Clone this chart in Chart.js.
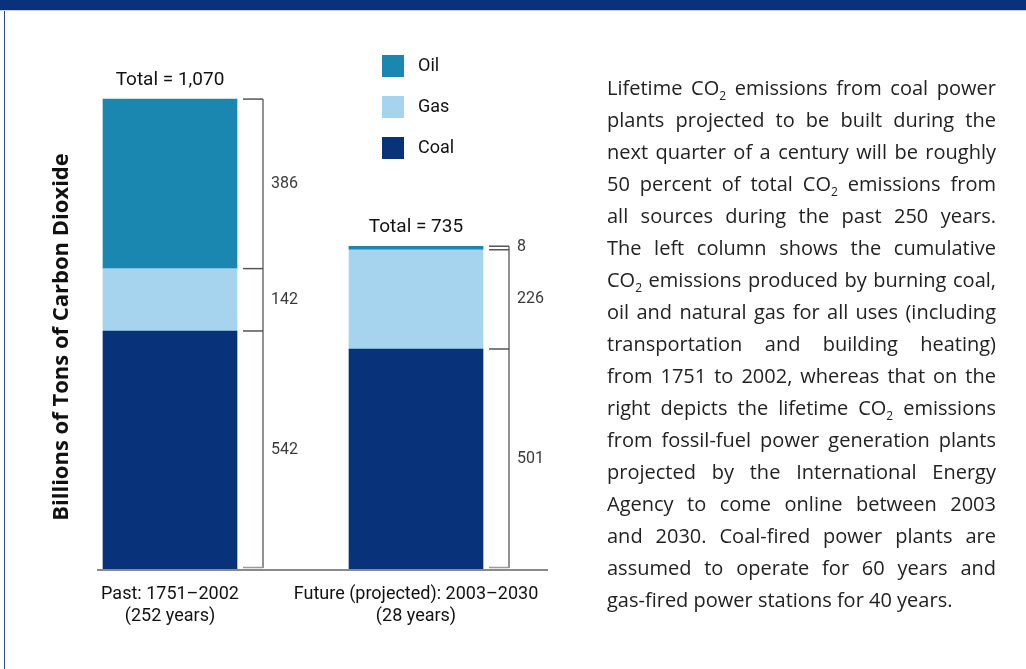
<!DOCTYPE html>
<html>
<head>
<meta charset="utf-8">
<script src="https://cdn.jsdelivr.net/npm/chart.js@4.4.1/dist/chart.umd.min.js"></script>
<style>
  html, body { margin: 0; padding: 0; background: #ffffff; }
  body { width: 1026px; height: 669px; position: relative; overflow: hidden; font-family: Roboto, "Open Sans", sans-serif; }
  #topbar { position: absolute; left: 0; top: 0; width: 1026px; height: 10px; background: #08337a; border-bottom: 1px solid #c9d1de; }
  #leftrule { position: absolute; left: 4px; top: 11px; width: 1px; height: 658px; background: #2d4a86; }
  #c { position: absolute; left: 0; top: 0; }
  #para { position: absolute; left: 607px; top: 72px; width: 389px; font-family: "Open Sans", Roboto, sans-serif; font-size: 20px; line-height: 32px; color: #222; }
  #para div { text-align: justify; text-align-last: justify; white-space: nowrap; }
  #para div.last { text-align-last: left; }
  #para sub { font-size: 12px; line-height: 0; vertical-align: -5px; }
</style>
</head>
<body>
<div id="topbar"></div>
<div id="leftrule"></div>
<canvas id="c" width="1026" height="669"></canvas>
<div id="para">
  <div>Lifetime CO<sub>2</sub> emissions from coal power</div>
  <div>plants projected to be built during the</div>
  <div>next quarter of a century will be roughly</div>
  <div>50 percent of total CO<sub>2</sub> emissions from</div>
  <div>all sources during the past 250 years.</div>
  <div>The left column shows the cumulative</div>
  <div>CO<sub>2</sub> emissions produced by burning coal,</div>
  <div>oil and natural gas for all uses (including</div>
  <div>transportation and building heating)</div>
  <div>from 1751 to 2002, whereas that on the</div>
  <div>right depicts the lifetime CO<sub>2</sub> emissions</div>
  <div>from fossil-fuel power generation plants</div>
  <div>projected by the International Energy</div>
  <div>Agency to come online between 2003</div>
  <div>and 2030. Coal-fired power plants are</div>
  <div>assumed to operate for 60 years and</div>
  <div class="last">gas-fired power stations for 40 years.</div>
</div>
<script>
// ---- data ----
const categories = [["Past: 1751\u20132002", "(252 years)"], ["Future (projected): 2003\u20132030", "(28 years)"]];
const coalValues = [542, 501];
const gasValues = [142, 226];
const oilValues = [386, 8];
const seriesNames = ["Coal", "Gas", "Oil"];
const yAxisTitle = "Billions of Tons of Carbon Dioxide";

const COLORS = { Coal: "#08337a", Gas: "#a6d4ee", Oil: "#1a87b0" };
const FONT = "Roboto, 'Open Sans', sans-serif";

const annot = {
  id: "annot",
  afterDatasetsDraw(chart) {
    const ctx = chart.ctx;
    const xs = chart.scales.x, ys = chart.scales.y;
    const ds = chart.data.datasets;
    const half = 67;
    ctx.save();

    // baseline
    ctx.strokeStyle = "#8a8a8a";
    ctx.lineWidth = 2;
    ctx.beginPath();
    ctx.moveTo(97, ys.getPixelForValue(0) + 1);
    ctx.lineTo(548, ys.getPixelForValue(0) + 1);
    ctx.stroke();

    chart.data.labels.forEach((lab, i) => {
      const cx = xs.getPixelForValue(i);
      const right = cx + half;
      const vals = ds.map(d => d.data[i]);
      const total = vals.reduce((a, b) => a + b, 0);
      const topPx = ys.getPixelForValue(total);

      // total label
      ctx.fillStyle = "#111";
      ctx.font = "19px " + FONT;
      ctx.textAlign = "center";
      ctx.textBaseline = "middle";
      ctx.fillText("Total = " + total.toLocaleString("en-US"), cx, topPx - 19);

      // bracket
      const bx = right + 26;
      const tx0 = right + 6;
      ctx.strokeStyle = "#6e6e6e";
      ctx.lineWidth = 1.5;
      ctx.beginPath();
      ctx.moveTo(bx, topPx);
      ctx.lineTo(bx, ys.getPixelForValue(0) - 1);
      ctx.stroke();

      let cum = 0;
      const bounds = [ys.getPixelForValue(0) - 1.5];
      vals.forEach(v => { cum += v; bounds.push(ys.getPixelForValue(cum)); });
      bounds.forEach((b, k) => {
        ctx.strokeStyle = k === 0 ? "#9a9a9a" : "#555";
        ctx.beginPath();
        ctx.moveTo(tx0, b);
        ctx.lineTo(bx, b);
        ctx.stroke();
      });

      // segment labels
      ctx.fillStyle = "#3a3a3a";
      ctx.font = "16px " + FONT;
      ctx.textAlign = "left";
      ctx.textBaseline = "middle";
      cum = 0;
      vals.forEach(v => {
        const y0 = ys.getPixelForValue(cum);
        const y1 = ys.getPixelForValue(cum + v);
        cum += v;
        let my = (y0 + y1) / 2;
        if (Math.abs(y0 - y1) < 10) my -= 1;
        ctx.fillText(String(v), bx + 8, my);
      });
    });

    // legend (reverse order: Oil, Gas, Coal)
    const legendItems = ds.slice().reverse();
    legendItems.forEach((d, k) => {
      const y = 55 + k * 41;
      ctx.fillStyle = d.backgroundColor;
      ctx.fillRect(382, y, 22, 22);
      ctx.fillStyle = "#111";
      ctx.font = "18px " + FONT;
      ctx.textAlign = "left";
      ctx.textBaseline = "middle";
      ctx.fillText(d.label, 418, y + 11);
    });

    // y axis title
    ctx.translate(62, 337);
    ctx.rotate(-Math.PI / 2);
    ctx.fillStyle = "#111";
    ctx.font = "bold 22px 'Open Sans', Roboto, sans-serif";
    ctx.textAlign = "center";
    ctx.textBaseline = "middle";
    ctx.fillText(yAxisTitle, 0, 0);
    ctx.restore();
  }
};

const seriesData = { Coal: coalValues, Gas: gasValues, Oil: oilValues };

new Chart(document.getElementById("c"), {
  type: "bar",
  data: {
    labels: categories,
    datasets: seriesNames.map(n => ({
      label: n,
      data: seriesData[n],
      backgroundColor: COLORS[n],
      borderWidth: 0,
      barThickness: 134
    }))
  },
  options: {
    responsive: false,
    animation: false,
    devicePixelRatio: 1,
    layout: { padding: { left: 47, right: 487, top: 42, bottom: 30 } },
    plugins: { legend: { display: false }, tooltip: { enabled: false } },
    scales: {
      x: {
        stacked: true,
        grid: { display: false },
        border: { display: false },
        ticks: { color: "#111", font: { family: FONT, size: 18, lineHeight: "22px" }, padding: 6, maxRotation: 0, minRotation: 0, autoSkip: false },
        afterFit: (s) => { s.height = 70; }
      },
      y: {
        stacked: true,
        display: false,
        min: 0,
        max: 1200
      }
    }
  },
  plugins: [annot]
});
</script>
</body>
</html>
